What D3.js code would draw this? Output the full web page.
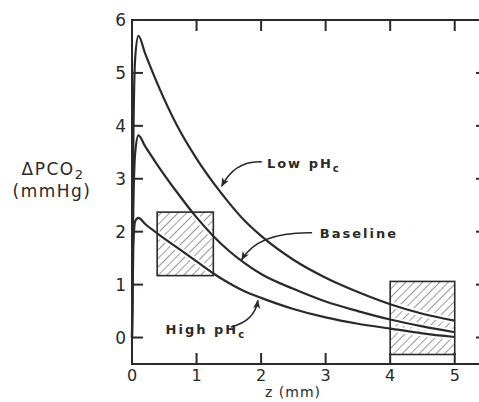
<!DOCTYPE html>
<html>
<head>
<meta charset="utf-8">
<script src="https://cdn.jsdelivr.net/npm/d3@7"></script>
<style>
  html, body { margin: 0; padding: 0; background: #fff; }
  svg { display: block; }
  text { font-family: "DejaVu Sans", sans-serif; fill: #2a2a2a; }
</style>
</head>
<body>
<script>
// depth into tissue (mm) and the three PCO2 profiles
const zVals = [0, 0.02, 0.05, 0.1, 0.2, 0.4, 0.7, 1.0, 1.25, 1.5, 1.75, 2.0, 2.5, 3.0, 3.5, 4.0, 4.5, 5.0];
const lowPH = [0, 3.6, 5.3, 5.7, 5.38, 4.78, 4.0, 3.38, 2.94, 2.55, 2.2, 1.92, 1.47, 1.13, 0.86, 0.63, 0.45, 0.32];
const baseline = [0, 2.4, 3.5, 3.82, 3.62, 3.25, 2.74, 2.27, 1.93, 1.64, 1.4, 1.2, 0.92, 0.68, 0.5, 0.34, 0.21, 0.1];
const highPH = [0, 1.7, 2.2, 2.26, 2.15, 1.96, 1.7, 1.44, 1.22, 1.03, 0.87, 0.75, 0.54, 0.38, 0.26, 0.17, 0.08, 0.01];

// measured ranges (hatched boxes)
const boxZ0 = [0.39, 4.0];
const boxZ1 = [1.26, 5.0];
const boxP0 = [1.17, -0.32];
const boxP1 = [2.37, 1.06];

const xTicks = [0, 1, 2, 3, 4, 5];
const yTicks = [0, 1, 2, 3, 4, 5, 6];

const W = 479, H = 402;
const x = d3.scaleLinear().domain([0, 5.5]).range([132, 487]);
const y = d3.scaleLinear().domain([-0.5, 6]).range([364, 20]);

const svg = d3.select("body").append("svg")
  .attr("width", W).attr("height", H);

const defs = svg.append("defs");
defs.append("pattern")
  .attr("id", "hatch")
  .attr("patternUnits", "userSpaceOnUse")
  .attr("width", 6).attr("height", 6)
  .attr("patternTransform", "rotate(45)")
  .append("line")
  .attr("x1", 0).attr("y1", 0).attr("x2", 0).attr("y2", 6)
  .attr("stroke", "#333").attr("stroke-width", 1);

defs.append("marker")
  .attr("id", "arrow")
  .attr("viewBox", "0 0 10 10")
  .attr("refX", 9).attr("refY", 5)
  .attr("markerWidth", 9).attr("markerHeight", 9)
  .attr("markerUnits", "userSpaceOnUse")
  .attr("orient", "auto")
  .append("path")
  .attr("d", "M0,1 L10,5 L0,9 L2.5,5 Z")
  .attr("fill", "#2a2a2a");

const boxes = boxZ0.map((z0, i) => ({ z0, z1: boxZ1[i], p0: boxP0[i], p1: boxP1[i] }));

// hatched fill
svg.selectAll("rect.hatch")
  .data(boxes)
  .enter().append("rect")
  .attr("class", "hatch")
  .attr("x", d => x(d.z0))
  .attr("y", d => y(d.p1))
  .attr("width", d => x(d.z1) - x(d.z0))
  .attr("height", d => y(d.p0) - y(d.p1))
  .attr("fill", "url(#hatch)");

const series = [lowPH, baseline, highPH].map(vals => zVals.map((z, i) => [z, vals[i]]));

const line = d3.line()
  .x(d => x(d[0]))
  .y(d => y(d[1]))
  .curve(d3.curveMonotoneX);

// white gap round the curves where they cross the hatching
svg.append("g").selectAll("path")
  .data(series)
  .enter().append("path")
  .attr("d", line)
  .attr("fill", "none")
  .attr("stroke", "#fff")
  .attr("stroke-width", 6);

svg.selectAll("rect.box")
  .data(boxes)
  .enter().append("rect")
  .attr("class", "box")
  .attr("x", d => x(d.z0))
  .attr("y", d => y(d.p1))
  .attr("width", d => x(d.z1) - x(d.z0))
  .attr("height", d => y(d.p0) - y(d.p1))
  .attr("fill", "none")
  .attr("stroke", "#2a2a2a")
  .attr("stroke-width", 1.6);

// frame with inward ticks on all four sides
const tick = 11;
const axisG = svg.append("g")
  .attr("stroke", "#2a2a2a")
  .attr("stroke-width", 2)
  .attr("fill", "none");

axisG.append("rect")
  .attr("x", x(0)).attr("y", y(6))
  .attr("width", x(5.5) - x(0))
  .attr("height", y(-0.5) - y(6));

axisG.selectAll("line.xb")
  .data(xTicks.slice(1))
  .enter().append("line")
  .attr("x1", d => x(d)).attr("x2", d => x(d))
  .attr("y1", y(-0.5)).attr("y2", y(-0.5) - tick);

axisG.selectAll("line.xt")
  .data(xTicks.slice(1))
  .enter().append("line")
  .attr("x1", d => x(d)).attr("x2", d => x(d))
  .attr("y1", y(6)).attr("y2", y(6) + tick);

axisG.selectAll("line.yl")
  .data(yTicks.slice(0, -1))
  .enter().append("line")
  .attr("x1", x(0)).attr("x2", x(0) + tick)
  .attr("y1", d => y(d)).attr("y2", d => y(d));

axisG.selectAll("line.yr")
  .data(yTicks.slice(0, -1))
  .enter().append("line")
  .attr("x1", x(5.5)).attr("x2", x(5.5) - tick)
  .attr("y1", d => y(d)).attr("y2", d => y(d));

svg.selectAll("text.xt")
  .data(xTicks)
  .enter().append("text")
  .attr("x", d => x(d))
  .attr("y", 381)
  .attr("text-anchor", "middle")
  .attr("font-size", 16)
  .text(d => d);

svg.selectAll("text.yt")
  .data(yTicks)
  .enter().append("text")
  .attr("x", 126)
  .attr("y", d => y(d))
  .attr("dy", "0.36em")
  .attr("text-anchor", "end")
  .attr("font-size", 17)
  .text(d => d);

svg.append("text")
  .attr("x", 293).attr("y", 397)
  .attr("text-anchor", "middle")
  .attr("font-size", 14)
  .attr("letter-spacing", 1)
  .text("z (mm)");

const yl = svg.append("text")
  .attr("x", 53).attr("y", 175)
  .attr("text-anchor", "middle")
  .attr("font-size", 17)
  .attr("letter-spacing", 1.5);
yl.append("tspan").text("ΔPCO");
yl.append("tspan").attr("dy", 4).attr("font-size", 13).text("2");

svg.append("text")
  .attr("x", 52).attr("y", 197)
  .attr("text-anchor", "middle")
  .attr("font-size", 17)
  .attr("letter-spacing", 1.5)
  .text("(mmHg)");

// curves
svg.append("g").selectAll("path")
  .data(series)
  .enter().append("path")
  .attr("d", line)
  .attr("fill", "none")
  .attr("stroke", "#2a2a2a")
  .attr("stroke-width", 2.2)
  .attr("stroke-linejoin", "round");

// annotations: label position, arrow start, control, tip (data coords)
const notes = [
  { label: "Low pH", sub: "c", lx: 2.09, ly: 3.2, s: [2.01, 3.32], c: [1.6, 3.35], t: [1.39, 2.86] },
  { label: "Baseline", sub: "", lx: 2.91, ly: 1.88, s: [2.79, 1.98], c: [1.95, 2.0], t: [1.7, 1.47] },
  { label: "High pH", sub: "c", lx: 0.52, ly: 0.07, s: [1.53, 0.2], c: [1.9, 0.3], t: [1.95, 0.7] }
];

svg.selectAll("path.arrow")
  .data(notes)
  .enter().append("path")
  .attr("class", "arrow")
  .attr("d", d => `M${x(d.s[0])},${y(d.s[1])} Q${x(d.c[0])},${y(d.c[1])} ${x(d.t[0])},${y(d.t[1])}`)
  .attr("fill", "none")
  .attr("stroke", "#2a2a2a")
  .attr("stroke-width", 1.6)
  .attr("marker-end", "url(#arrow)");

const lab = svg.selectAll("text.note")
  .data(notes)
  .enter().append("text")
  .attr("class", "note")
  .attr("x", d => x(d.lx))
  .attr("y", d => y(d.ly))
  .attr("font-size", 13)
  .attr("font-weight", "bold")
  .attr("letter-spacing", 2);
lab.append("tspan").text(d => d.label);
lab.append("tspan").attr("dy", 4).attr("font-size", 10).text(d => d.sub);
</script>
</body>
</html>
